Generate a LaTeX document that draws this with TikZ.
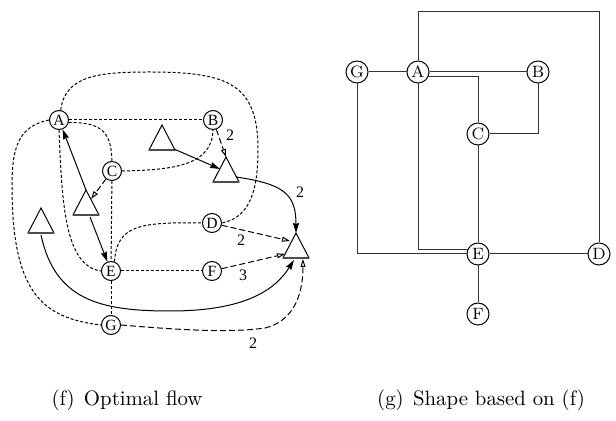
\documentclass[tikz,border=0pt]{standalone}
\usepackage{fontspec}
\newfontfamily\tfont{Liberation Serif}
\usetikzlibrary{arrows.meta,calc}
\newcommand\mytri[1]{\draw[tri] (#1) -- ++(13,25) -- ++(-26,0) -- cycle; \draw[tribase] ($(#1)+(-13,25)$) -- ++(26,0);}
\begin{document}
\begin{tikzpicture}[x=0.5pt,y=-0.5pt,
  lnode/.style={circle,draw,line width=0.5pt,minimum size=9.5pt,inner sep=0pt,font=\tfont\fontsize{7.8}{8}\selectfont},
  rnode/.style={circle,draw,line width=0.5pt,minimum size=11pt,inner sep=0pt,fill=white,font=\fontsize{8.2}{9}\selectfont},
  dotl/.style={line width=0.5pt,dash pattern=on 1.5pt off 1pt},
  flowd/.style={line width=0.5pt,dash pattern=on 3pt off 1.5pt,-{Triangle[open,length=4pt,width=2.5pt]}},
  flows/.style={line width=0.5pt,-{Stealth[length=5pt,width=3pt,inset=0.5pt]}},
  tri/.style={line width=0.5pt,line join=miter},
  tribase/.style={line width=0.8pt,black!70},
  lbl/.style={font=\tfont\fontsize{8}{8}\selectfont,inner sep=0pt},
  shp/.style={line width=0.5pt,black!80},
]
\useasboundingbox (0,0) rectangle (616,421);

% ---------- left diagram (f) ----------
\node[lnode] (A) at (59,120) {A};
\node[lnode] (B) at (213,120) {B};
\node[lnode] (C) at (112,171) {C};
\node[lnode] (D) at (212,223) {D};
\node[lnode] (E) at (111,271) {E};
\node[lnode] (F) at (212,271) {F};
\node[lnode] (G) at (111,325) {G};

\coordinate (t1) at (162,125);
\coordinate (t2) at (226,157);
\coordinate (t3) at (86,190);
\coordinate (t4) at (41,208);
\coordinate (t5) at (296,233);
\mytri{t1}\mytri{t2}\mytri{t3}\mytri{t4}\mytri{t5}

% dotted connections
\draw[dotl] (A) -- (B);
\draw[dotl] (A.80) .. controls (65,75) and (100,72) .. (150,72)
  .. controls (230,72) and (258,85) .. (258,150)
  .. controls (258,200) and (245,218) .. (D.east);
\draw[dotl] (A.-15) .. controls (105,122) and (111,135) .. (C.north);
\draw[dotl] (A.south) .. controls (62,200) and (64,266) .. (E.west);
\draw[dotl] (A.west) .. controls (20,126) and (12,145) .. (12,185)
  .. controls (12,290) and (40,318) .. (G.west);
\draw[dotl] (C.east) .. controls (175,170) and (212,165) .. (B.south);
\draw[dotl] (C) -- (E);
\draw[dotl] (E) -- (G);
\draw[dotl] (E) -- (F);
\draw[dotl] (E.70) .. controls (117,225) and (140,222) .. (D.west);

% solid flows
\draw[flows] ($(t1)+(12,24)$) -- ($(t2)+(-6,12)$);
\draw[flows] ($(t2)+(10,20)$) .. controls (285,184) and (296,195) .. (t5);
\node[lbl] (l1) at (300,192) {2};
\draw[flows] (t3) -- (A);
\draw[flows] ($(t3)+(4,27)$) -- (E);
\draw[flows] ($(t4)+(0,27)$) .. controls (55,300) and (100,311) .. (170,311)
  .. controls (245,311) and (275,290) .. ($(t5)+(-2,27)$);

% dashed flows
\draw[flowd] (C) -- ($(t3)+(5,9)$);
\draw[flowd] (B) -- (t2);
\node[lbl] (l2) at (230,135) {2};
\draw[flowd] (D) -- ($(t5)+(-6,8)$);
\node[lbl] (l3) at (241,240) {2};
\draw[flowd] (F) -- ($(t5)+(-11,21)$);
\node[lbl] (l4) at (243,275) {3};
\draw[flowd] (G.east) .. controls (180,330) and (230,333) .. (265,328)
  .. controls (290,322) and (303,300) .. ($(t5)+(7,26)$);
\node[lbl] (l5) at (253,343) {2};

% ---------- right diagram (g) ----------
\node[rnode] (rG) at (357,72) {G};
\node[rnode] (rA) at (418,72) {A};
\node[rnode] (rB) at (538,72) {B};
\node[rnode] (rC) at (478,134) {C};
\node[rnode] (rE) at (478,254) {E};
\node[rnode] (rD) at (599,254) {D};
\node[rnode] (rF) at (478,314) {F};
\coordinate (topR) at (599,12);

\draw[shp] (rA.north) |- (topR) -- (rD.north);
\draw[shp] (rG) -- (rA);
\draw[shp] (rA) -- (rB);
\draw[shp] (rA.-25) -| (rC.north);
\draw[shp] (rC.east) -| (rB.south);
\draw[shp] (rC) -- (rE);
\draw[shp] (rA.south) |- (rE.155);
\draw[shp] (rG.south) |- (rE.west);
\draw[shp] (rE) -- (rD);
\draw[shp] (rE) -- (rF);

% captions
\node[font=\fontsize{10.4}{12}\selectfont] (capf) at (127,400) {(f)\hspace{0.45em}Optimal flow};
\node[font=\fontsize{10.4}{12}\selectfont] (capg) at (481,400) {(g)\hspace{0.45em}Shape based on (f)};
\end{tikzpicture}
\end{document}
